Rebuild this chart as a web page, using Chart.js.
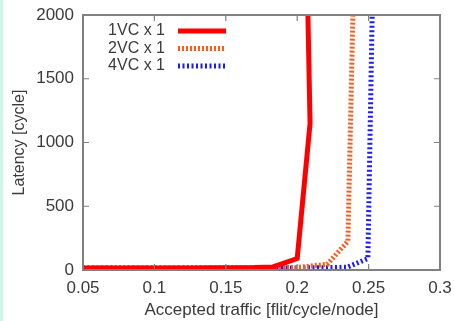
<!DOCTYPE html>
<html>
<head>
<meta charset="utf-8">
<script src="https://cdn.jsdelivr.net/npm/chart.js@4.4.0/dist/chart.umd.min.js"></script>
<style>
    html, body {
        margin: 0;
        padding: 0;
        width: 455px;
        height: 321px;
        overflow: hidden;
        background: linear-gradient(to right, #cdf5e9 0px, #cdf5e9 3px, #ffffff 3px);
    }
    #wrap { width: 455px; height: 321px; position: relative; }
</style>
</head>
<body>
<div id="wrap"><canvas id="latency"></canvas></div>
<script>
// ============================================================================
// LATENCY VS ACCEPTED TRAFFIC (1VC / 2VC / 4VC)
// ============================================================================

const seriesLabels = ['1VC x 1', '2VC x 1', '4VC x 1'];

// accepted traffic [flit/cycle/node]
const vc1Traffic = [0.05, 0.08, 0.10, 0.12, 0.15, 0.17, 0.183, 0.20, 0.209, 0.2075];
const vc2Traffic = [0.05, 0.08, 0.10, 0.12, 0.15, 0.18, 0.20, 0.221, 0.2355, 0.239];
const vc4Traffic = [0.05, 0.08, 0.10, 0.12, 0.15, 0.18, 0.20, 0.22, 0.235, 0.2495, 0.2525];

// latency [cycle]
const vc1Latency = [15, 15, 15, 16, 17, 19, 24, 90, 1150, 2000];
const vc2Latency = [15, 15, 15, 15, 16, 17, 20, 45, 225, 2000];
const vc4Latency = [15, 15, 15, 15, 15, 16, 16, 18, 22, 90, 2000];

const xTicks = [0.05, 0.1, 0.15, 0.2, 0.25, 0.3];
const yTicks = [0, 500, 1000, 1500, 2000];

const toPoints = (xs, ys) => xs.map((x, i) => ({ x: x, y: ys[i] }));

const textColor = '#3a3a3a';
const frameColor = '#808080';
const fontFamily = '"Liberation Sans", Arial, Helvetica, sans-serif';

/**
 * Gnuplot-like frame: border box plus inward tick marks on all sides,
 * and a legend with text on the left and the line sample on the right.
 */
const framePlugin = {
    id: 'gnuplotFrame',
    afterDatasetsDraw(chart) {
        const { ctx, chartArea: a, scales } = chart;
        ctx.save();
        ctx.strokeStyle = frameColor;
        ctx.lineWidth = 1.2;
        const len = 6;
        xTicks.forEach(v => {
            const px = scales.x.getPixelForValue(v);
            ctx.beginPath();
            ctx.moveTo(px, a.bottom); ctx.lineTo(px, a.bottom - len);
            ctx.moveTo(px, a.top); ctx.lineTo(px, a.top + len);
            ctx.stroke();
        });
        yTicks.forEach(v => {
            const py = scales.y.getPixelForValue(v);
            ctx.beginPath();
            ctx.moveTo(a.left, py); ctx.lineTo(a.left + len, py);
            ctx.moveTo(a.right, py); ctx.lineTo(a.right - len, py);
            ctx.stroke();
        });
        ctx.lineWidth = 2;
        ctx.strokeRect(a.left, a.top, a.right - a.left, a.bottom - a.top);

        // legend
        ctx.font = '16px ' + fontFamily;
        ctx.textAlign = 'right';
        ctx.textBaseline = 'middle';
        chart.data.datasets.forEach((ds, i) => {
            const y = a.top + 16 + i * 17.5;
            ctx.fillStyle = textColor;
            ctx.fillText(ds.label, a.left + 82, y);
            ctx.beginPath();
            ctx.setLineDash(ds.borderDash || []);
            ctx.strokeStyle = ds.borderColor;
            ctx.lineWidth = ds.borderWidth;
            ctx.moveTo(a.left + 95, y);
            ctx.lineTo(a.left + 143, y);
            ctx.stroke();
            ctx.setLineDash([]);
        });
        ctx.restore();
    }
};

function renderLatencyChart(canvasId) {
    const ctx = document.getElementById(canvasId)?.getContext('2d');
    if (!ctx) {
        console.warn(`Canvas with id '${canvasId}' not found`);
        return null;
    }

    const chartData = {
        datasets: [{
            label: seriesLabels[0],
            data: toPoints(vc1Traffic, vc1Latency),
            borderColor: '#ff0000',
            borderWidth: 5,
            pointRadius: 0,
            fill: false,
            tension: 0
        }, {
            label: seriesLabels[1],
            data: toPoints(vc2Traffic, vc2Latency),
            borderColor: '#ff5a1a',
            borderWidth: 5,
            borderDash: [2, 2],
            pointRadius: 0,
            fill: false,
            tension: 0
        }, {
            label: seriesLabels[2],
            data: toPoints(vc4Traffic, vc4Latency),
            borderColor: '#1a1aff',
            borderWidth: 5,
            borderDash: [2, 2.5],
            pointRadius: 0,
            fill: false,
            tension: 0
        }]
    };

    const options = {
        responsive: false,
        animation: false,
        devicePixelRatio: 1,
        layout: {
            padding: { left: 0, top: 15, right: 15, bottom: 0 }
        },
        plugins: {
            legend: { display: false },
            tooltip: { enabled: false }
        },
        scales: {
            x: {
                type: 'linear',
                min: 0.05,
                max: 0.3,
                afterBuildTicks: (scale) => {
                    scale.ticks = xTicks.map(v => ({ value: v }));
                },
                afterFit: (scale) => {
                    scale.height = 51;
                    scale.paddingLeft = 0;
                    scale.paddingRight = 0;
                },
                grid: { display: false, drawTicks: false },
                border: { display: false },
                title: {
                    display: true,
                    text: 'Accepted traffic [flit/cycle/node]',
                    color: textColor,
                    font: { size: 17, family: fontFamily },
                    padding: { top: 0, bottom: 0 }
                },
                ticks: {
                    color: textColor,
                    font: { size: 17, family: fontFamily },
                    padding: 8,
                    maxRotation: 0,
                    callback: (v) => String(v)
                }
            },
            y: {
                min: 0,
                max: 2000,
                afterBuildTicks: (scale) => {
                    scale.ticks = yTicks.map(v => ({ value: v }));
                },
                afterFit: (scale) => {
                    scale.width = 83;
                    scale.paddingTop = 0;
                    scale.paddingBottom = 0;
                },
                grid: { display: false, drawTicks: false },
                border: { display: false },
                title: {
                    display: true,
                    text: 'Latency [cycle]',
                    color: textColor,
                    font: { size: 16, family: fontFamily },
                    padding: { top: 10, bottom: 2 }
                },
                ticks: {
                    color: textColor,
                    font: { size: 17, family: fontFamily },
                    padding: 9,
                    callback: (v) => String(v)
                }
            }
        }
    };

    return new Chart(ctx, {
        type: 'line',
        data: chartData,
        options: options,
        plugins: [framePlugin]
    });
}

const canvas = document.getElementById('latency');
canvas.width = 455;
canvas.height = 321;
renderLatencyChart('latency');
</script>
</body>
</html>
